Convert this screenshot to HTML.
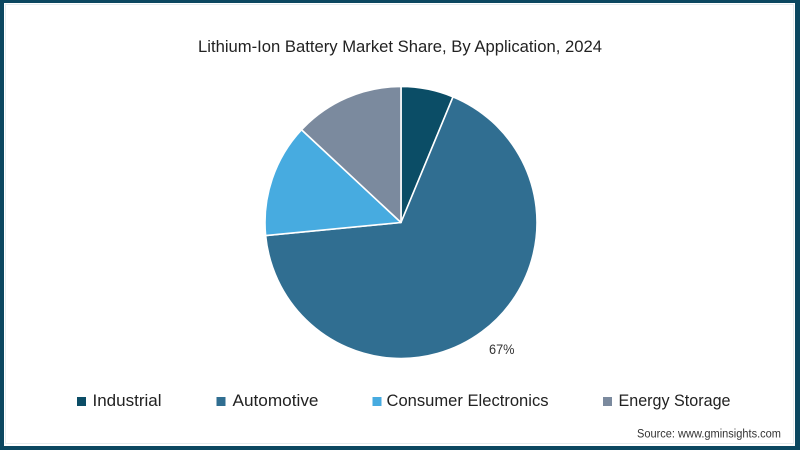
<!DOCTYPE html>
<html>
<head>
<meta charset="utf-8">
<style>
  html,body{margin:0;padding:0;width:800px;height:450px;overflow:hidden;background:#0b4760;}
  svg{display:block;}
  text{font-family:"Liberation Sans",sans-serif;}
</style>
</head>
<body>
<svg width="800" height="450" viewBox="0 0 800 450" xmlns="http://www.w3.org/2000/svg">
  <rect x="0" y="0" width="800" height="450" fill="#0b4760"/>
  <rect x="4" y="3" width="791" height="443" fill="#ffffff"/>
  <rect x="5.5" y="4.5" width="788" height="439" fill="none" stroke="#e6ecef" stroke-width="1"/>

  <text x="198" y="52" font-size="17" fill="#222" textLength="404" lengthAdjust="spacingAndGlyphs">Lithium-Ion Battery Market Share, By Application, 2024</text>

  <g stroke="#ffffff" stroke-width="1.6" stroke-linejoin="round">
    <path d="M401,222.5 L401,86.5 A136,136 0 0 1 453.05,96.85 Z" fill="#0b4d66"/>
    <path d="M401,222.5 L453.05,96.85 A136,136 0 1 1 265.63,235.54 Z" fill="#306e91"/>
    <path d="M401,222.5 L265.63,235.54 A136,136 0 0 1 301.54,129.75 Z" fill="#47abe0"/>
    <path d="M401,222.5 L301.54,129.75 A136,136 0 0 1 401,86.5 Z" fill="#7b8a9e"/>
  </g>

  <text x="489" y="354" font-size="13.5" fill="#333" textLength="25.5" lengthAdjust="spacingAndGlyphs">67%</text>

  <rect x="77" y="397" width="9" height="9" fill="#0b4d66"/>
  <text x="92.5" y="406" font-size="16.5" fill="#222" textLength="69" lengthAdjust="spacingAndGlyphs">Industrial</text>

  <rect x="216.5" y="397" width="9" height="9" fill="#306e91"/>
  <text x="232.5" y="406" font-size="16.5" fill="#222" textLength="86" lengthAdjust="spacingAndGlyphs">Automotive</text>

  <rect x="372.5" y="397" width="9" height="9" fill="#47abe0"/>
  <text x="386.5" y="406" font-size="16.5" fill="#222" textLength="162" lengthAdjust="spacingAndGlyphs">Consumer Electronics</text>

  <rect x="603" y="397" width="9" height="9" fill="#7b8a9e"/>
  <text x="618.5" y="406" font-size="16.5" fill="#222" textLength="112" lengthAdjust="spacingAndGlyphs">Energy Storage</text>

  <text x="637" y="437.3" font-size="11.5" fill="#333" textLength="144" lengthAdjust="spacingAndGlyphs">Source: www.gminsights.com</text>
</svg>
</body>
</html>
